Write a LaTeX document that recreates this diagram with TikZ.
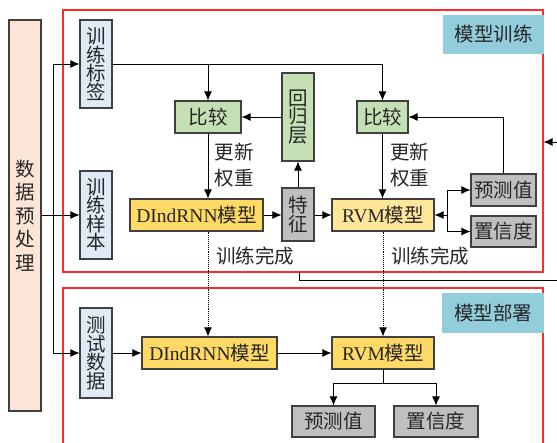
\documentclass[tikz,border=0pt]{standalone}
\usepackage{fontspec}
\setmainfont{Liberation Serif}
\newfontfamily\cjk{Noto Sans CJK SC}
\usetikzlibrary{arrows.meta,calc}
\definecolor{bord}{HTML}{404040}
\definecolor{txt}{HTML}{262626}
\definecolor{prec}{HTML}{FBE5D6}
\definecolor{bluec}{HTML}{DEEBF7}
\definecolor{greenc}{HTML}{C5E0B4}
\definecolor{grayc}{HTML}{BFBFBF}
\definecolor{goldc}{HTML}{FFD966}
\definecolor{lgoldc}{HTML}{FFE699}
\definecolor{tealc}{HTML}{92CDDC}
\definecolor{redc}{HTML}{FF2A2A}
\begin{document}
\begin{tikzpicture}[x=1pt,y=-1pt,
  box/.style={draw=bord,line width=1.1pt,inner sep=0pt,align=center,text=txt,font=\cjk\fontsize{19.5}{18.5}\selectfont},
  arr/.style={draw=black,line width=0.9pt,-{Latex[length=9pt,width=8pt]}},
  ln/.style={draw=black,line width=0.9pt},
  redbox/.style={draw=redc,line width=1.2pt},
  tag/.style={fill=tealc,inner sep=0pt,text=txt,font=\cjk\fontsize{19.5}{19.5}\selectfont},
  lbl/.style={text=txt,font=\cjk\fontsize{19.5}{26}\selectfont,align=left,inner sep=0pt}
]
\useasboundingbox (0,0) rectangle (557,443);

% red frames
\draw[redbox] (63,10) rectangle (543,272);
\draw[redbox] (63,450) -- (63,288) -- (543,288) -- (543,450);

% tags
\node[tag,minimum width=101pt,minimum height=39pt] (t1) at (493.5,34.5) {模型训练};
\node[tag,minimum width=102pt,minimum height=40pt] (t2) at (493,313) {模型部署};

% nodes
\node[box,fill=prec,minimum width=32pt,minimum height=391pt,font=\cjk\fontsize{19.5}{23.5}\selectfont] (pre) at (25,215.5) {数\\据\\预\\处\\理};
\node[box,fill=bluec,minimum width=32pt,minimum height=88pt] (lab) at (96,64) {训\\练\\标\\签};
\node[box,fill=bluec,minimum width=32pt,minimum height=88pt] (samp) at (96,215) {训\\练\\样\\本};
\node[box,fill=bluec,minimum width=32pt,minimum height=90pt] (test) at (96,353) {测\\试\\数\\据};
\node[box,fill=greenc,minimum width=66pt,minimum height=32pt] (cmp1) at (208,117) {比较};
\node[box,fill=greenc,minimum width=51pt,minimum height=32pt] (cmp2) at (382.5,117) {比较};
\node[box,fill=greenc,minimum width=32pt,minimum height=88pt] (reg) at (298,117) {回\\归\\层};
\node[box,fill=grayc,minimum width=32pt,minimum height=53pt] (feat) at (298,214.5) {特\\征};
\node[box,fill=goldc,minimum width=133pt,minimum height=32pt,font=\fontsize{19.5}{19.5}\selectfont] (rnn1) at (196.5,215) {DIndRNN{\cjk 模型}};
\node[box,fill=lgoldc,minimum width=102pt,minimum height=32pt,font=\fontsize{19.5}{19.5}\selectfont] (rvm1) at (383,215) {RVM{\cjk 模型}};
\node[box,fill=grayc,minimum width=65pt,minimum height=32pt] (pred1) at (503.5,190) {预测值};
\node[box,fill=grayc,minimum width=65pt,minimum height=31pt] (conf1) at (503.5,231.5) {置信度};
\node[box,fill=goldc,minimum width=135pt,minimum height=32pt,font=\fontsize{19.5}{19.5}\selectfont] (rnn2) at (209.5,353) {DIndRNN{\cjk 模型}};
\node[box,fill=goldc,minimum width=102pt,minimum height=32pt,font=\fontsize{19.5}{19.5}\selectfont] (rvm2) at (383,353) {RVM{\cjk 模型}};
\node[box,fill=grayc,minimum width=83pt,minimum height=31pt] (pred2) at (333.5,421.5) {预测值};
\node[box,fill=grayc,minimum width=84pt,minimum height=31pt] (conf2) at (436,421.5) {置信度};

% labels
\node[lbl] (u1) at (234,165) {更新\\权重};
\node[lbl] (u2) at (409.5,165) {更新\\权重};
\node[lbl] (d1) at (255,256) {训练完成};
\node[lbl] (d2) at (430,256) {训练完成};

% connectors
\coordinate (bl) at (53,64);
\coordinate (bt) at (53,353);
\draw[ln] (bl) -- (bt);
\draw[arr] (bl) -- (lab.west);
\draw[arr] (pre.east |- samp.west) -- (samp.west);
\draw[arr] (bt) -- (test.west);
\draw[arr] (lab.east) -| (cmp2.north);
\draw[arr] (cmp1.north |- lab.east) -- (cmp1.north);
\draw[arr] (reg.west) -- (cmp1.east);
\draw[arr] (feat.north) -- (reg.south);
\draw[arr] (cmp1.south) -- (cmp1.south |- rnn1.north);
\draw[arr] (rnn1.east) -- (rnn1.east -| feat.west);
\draw[arr] (feat.east |- rvm1.west) -- (rvm1.west);
\draw[arr] (cmp2.south) -- (cmp2.south |- rvm1.north);
\draw[arr] (pred1.north) |- (cmp2.east);
\coordinate (sp) at (447,215);
\draw[arr] (sp) -- (rvm1.east);
\draw[ln] (sp |- pred1.west) -- (sp |- conf1.west);
\draw[arr] (sp |- pred1.west) -- (pred1.west);
\draw[arr] (sp |- conf1.west) -- (conf1.west);
\draw[arr,densely dotted] (cmp1.south |- rnn1.south) -- (cmp1.south |- rnn2.north);
\draw[arr,densely dotted] (rvm1.south) -- (rvm2.north);
\draw[arr] (test.east) -- (test.east -| rnn2.west);
\draw[arr] (rnn2.east) -- (rvm2.west);
\coordinate (sp2) at (383,383);
\draw[ln] (rvm2.south) -- (sp2);
\draw[arr] (sp2) -| (pred2.north);
\draw[arr] (sp2) -| (conf2.north);
\coordinate (m1) at (299,272);
\coordinate (m2) at (560,280);
\draw[ln] (m1) |- (m2);
\coordinate (r1) at (560,142);
\coordinate (r2) at (543.5,142);
\draw[arr] (r1) -- (r2);
\end{tikzpicture}
\end{document}
